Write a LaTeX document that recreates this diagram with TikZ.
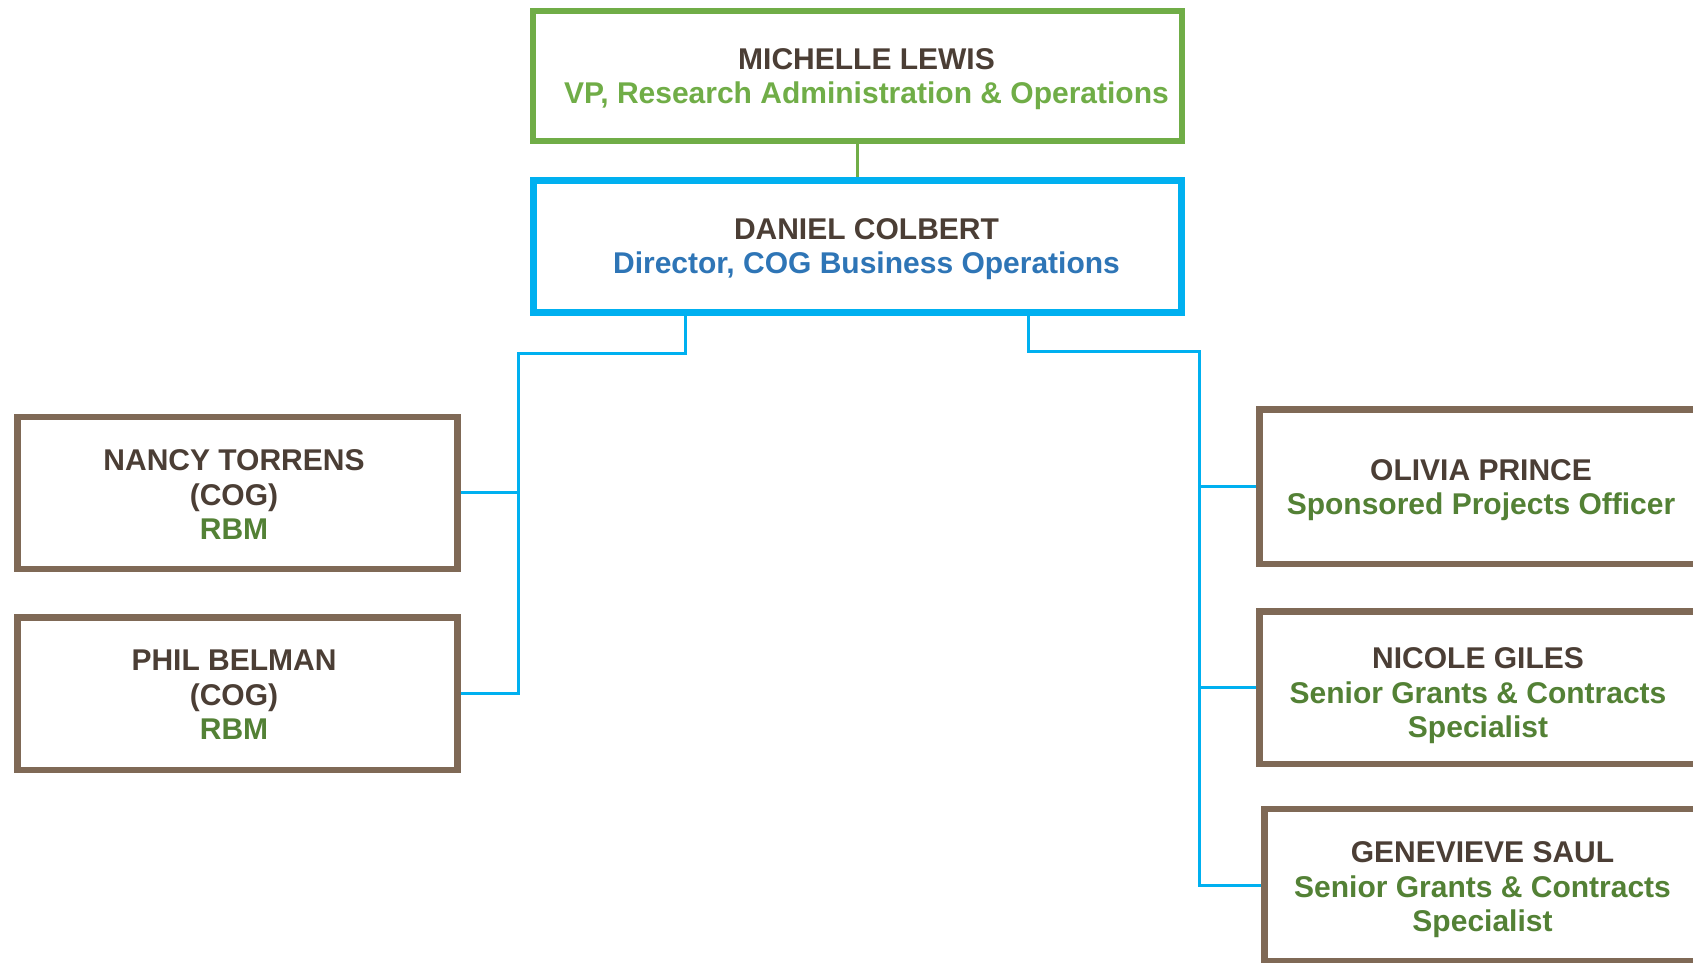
\documentclass[tikz,border=0pt]{standalone}
\usepackage{fontspec}
\setmainfont{Liberation Sans}
\definecolor{vpgreen}{HTML}{70AD47}
\definecolor{dkgreen}{HTML}{538135}
\definecolor{cyanb}{HTML}{00B0F0}
\definecolor{dirblue}{HTML}{2E75B6}
\definecolor{namebrown}{HTML}{4B3E35}
\definecolor{boxbrown}{HTML}{7F6956}
\tikzset{
  box/.style={draw, rectangle, fill=white, inner sep=0pt},
  greenbox/.style={box, draw=vpgreen, line width=6pt},
  bluebox/.style={box, draw=cyanb, line width=6.5pt},
  brownbox/.style={box, draw=boxbrown, line width=6.5pt},
  txt/.style={align=center, inner sep=0pt, text=namebrown, font=\bfseries\fontsize{30}{34.5}\selectfont},
  gline/.style={draw=vpgreen, line width=3pt},
  bline/.style={draw=cyanb, line width=3pt},
}
\begin{document}
\begin{tikzpicture}[x=1pt, y=-1pt]
\path[use as bounding box] (0,0) rectangle (1693,962);
\clip (0,0) rectangle (1693,962);
\fill[white] (0,0) rectangle (1693,962);

\coordinate (lt) at (685,353);
\coordinate (lbus) at (518.5,353);
\coordinate (rt) at (1028,351);
\coordinate (rbus) at (1199,351);

% boxes
\node[greenbox, minimum width=648.5pt, minimum height=130pt] (michelle) at (857.25,75.5) {};
\node[bluebox, minimum width=648pt, minimum height=132pt] (daniel) at (857.25,246.7) {};
\node[brownbox, minimum width=440pt, minimum height=152pt] (nancy) at (237.3,492.75) {};
\node[brownbox, minimum width=440pt, minimum height=152.5pt] (phil) at (237.3,693.5) {};
\node[brownbox, minimum width=443.5pt, minimum height=154.5pt] (olivia) at (1481,486.5) {};
\node[brownbox, minimum width=443.5pt, minimum height=152.5pt] (nicole) at (1481,687.5) {};
\node[brownbox, minimum width=443.5pt, minimum height=152.5pt] (genevieve) at (1486,885) {};

\draw[gline] (michelle.south) -- (daniel.north);
\draw[bline] (daniel.south -| lt) -- (lt) -- (lbus) -- (lbus |- phil.east) -- (phil.east);
\draw[bline] (nancy.east) -- (lbus |- nancy.east);
\draw[bline] (daniel.south -| rt) -- (rt) -- (rbus) -- (rbus |- genevieve.west) -- (genevieve.west);
\draw[bline] (olivia.west) -- (rbus |- olivia.west);
\draw[bline] (nicole.west) -- (rbus |- nicole.west);

% texts
\node[txt] (michelletxt) at (866.5,79) {MICHELLE LEWIS\\\textcolor{vpgreen}{VP, Research Administration \& Operations}};
\node[txt] (danieltxt) at (866.5,249) {DANIEL COLBERT\\\textcolor{dirblue}{Director, COG Business Operations}};
\node[txt] (nancytxt) at (234,495) {NANCY TORRENS\\(COG)\\\textcolor{dkgreen}{RBM}};
\node[txt] (philtxt) at (234,695) {PHIL BELMAN\\(COG)\\\textcolor{dkgreen}{RBM}};
\node[txt] (olivitxt) at (1481,490) {OLIVIA PRINCE\\\textcolor{dkgreen}{Sponsored Projects Officer}};
\node[txt] (nicoletxt) at (1478,696) {NICOLE GILES\\\textcolor{dkgreen}{Senior Grants \& Contracts}\\\textcolor{dkgreen}{Specialist}};
\node[txt] (genevievetxt) at (1482.5,890) {GENEVIEVE SAUL\\\textcolor{dkgreen}{Senior Grants \& Contracts}\\\textcolor{dkgreen}{Specialist}};
\end{tikzpicture}
\end{document}
